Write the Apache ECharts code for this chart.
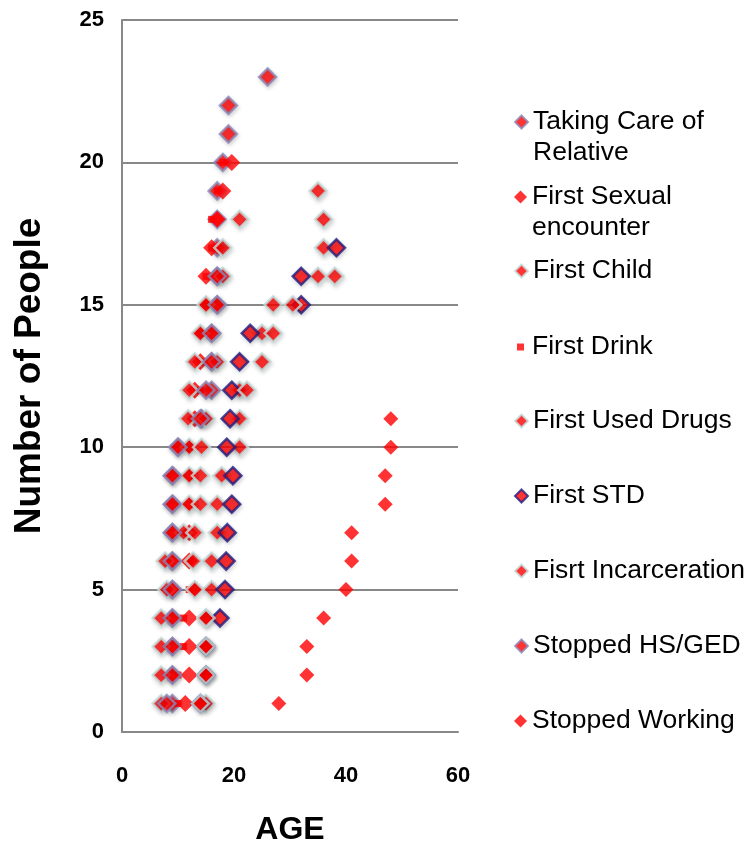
<!DOCTYPE html>
<html>
<head>
<meta charset="utf-8">
<script src="https://cdn.jsdelivr.net/npm/echarts@6/dist/echarts.min.js"></script>
<style>html,body{margin:0;padding:0;background:#fff}#c{width:750px;height:844px}</style>
</head>
<body>
<div id="c"></div>
<script>
// ---- data (ages; y = number of people) ----
const counts = [1,2,3,4,5,6,7,8,9,10,11,12,13,14,15,16,17,18,19,20,21,22,23];
const seriesNames = ['Taking Care of\nRelative','First Sexual\nencounter','First Child','First Drink','First Used Drugs','First STD','Fisrt Incarceration','Stopped HS/GED','Stopped Working'];
const takingCare    = [9,9,9,9,9,9,9,9,9,10,14.2,16,16,16,17,17,17,17,17,18,19,19,26];
const firstSexual   = [11.3,12,12,12,13,12,12,12,12,12,13,13,14,14,15,15,16,17,18,19.6];
const firstChild    = [15,15,15,15,16,16,17,17,17.8,21,21,21,25,25,27,35,36,36,35];
const firstDrink    = [10,10,11,11,12,12,12,13,13,13,13,14,14,14,15,15,16,16,17,18];
const firstDrugs    = [7,7,7,7,8,7.7,11,12,12,12,11.8,12,13,14,15,18,18,21];
const firstSTD      = [14,15,15,17.5,18.4,18.6,18.8,19.6,19.8,18.7,19.3,19.6,21,22.9,32,32,38.3];
const incarceration = [14,15,15,15,13,12.7,13,14,14,14.2,15,22.3,17,27,30.5,38];
const stoppedHS     = [8,9,9,9,9,9,9,9,9,10,14,15,16,16,17,17];
const stoppedWork   = [28,33,33,36,40,41,41,47,47,48,48];
const xTicks = [0,20,40,60];
const yTicks = [0,5,10,15,20,25];

const ageLists = [takingCare, firstSexual, firstChild, firstDrink, firstDrugs, firstSTD, incarceration, stoppedHS, stoppedWork];

// ---- styles ----
const RED = '#ff0000';
const PURPLE = '#8a8aba', NAVY = '#1e1e82', CYAN = '#c2dede';
const smallSquareIcon = 'path://M0,0M13,13M3,3L10,3L10,10L3,10Z';
const styles = [
  {symbol:'diamond', size:17, border:PURPLE, bw:2.5, icon:'diamond'},
  {symbol:'diamond', size:17, border:null, bw:0, icon:'diamond'},
  {symbol:'diamond', size:17, border:CYAN, bw:2.5, icon:'diamond'},
  {symbol:'rect', size:7, border:null, bw:0, icon:smallSquareIcon},
  {symbol:'diamond', size:17, border:CYAN, bw:2.5, icon:'diamond'},
  {symbol:'diamond', size:17, border:NAVY, bw:2.5, icon:'diamond'},
  {symbol:'diamond', size:17, border:CYAN, bw:2.5, icon:'diamond'},
  {symbol:'diamond', size:17, border:PURPLE, bw:2.5, icon:'diamond'},
  {symbol:'diamond', size:15, border:null, bw:0, icon:'diamond'}
];
const legendY = [122,197,271,347,421,496,571,646,721];

const FONT = 'Liberation Sans, Arial, sans-serif';

const series = seriesNames.map((name, k) => {
  const st = styles[k];
  const ages = ageLists[k];
  return {
    name: name,
    type: 'scatter',
    symbol: st.symbol,
    symbolSize: st.size,
    data: ages.map((a, i) => [a, counts[i]]),
    itemStyle: {
      color: RED,
      borderColor: st.border || RED,
      borderWidth: st.bw,
      shadowColor: st.border ? 'rgba(0,0,0,0.18)' : 'rgba(0,0,0,0)',
      shadowBlur: st.border ? 4 : 0,
      shadowOffsetX: 1,
      shadowOffsetY: 2
    },
    emphasis: {disabled: true},
    animation: false
  };
});

const legends = seriesNames.map((name, k) => {
  const twoLine = name.indexOf('\n') >= 0;
  const st = styles[k];
  return {
    data: [{name: name, icon: st.icon}],
    left: 514,
    top: twoLine ? legendY[k] - 46.5 : legendY[k] - 15.5,
    orient: 'vertical',
    selectedMode: false,
    itemWidth: 13,
    itemHeight: 13,
    padding: 0,
    formatter: n => twoLine ? '\u00a0\n' + n : n,
    textStyle: {
      fontFamily: FONT,
      fontSize: 26.5,
      lineHeight: 31,
      color: '#000'
    }
  };
});

const chart = echarts.init(document.getElementById('c'), null, {renderer: 'canvas'});
chart.setOption({
  animation: false,
  backgroundColor: '#fff',
  grid: {left: 122, right: 292, top: 20, bottom: 112, containLabel: false, outerBoundsMode: 'none'},
  legend: legends,
  xAxis: {
    type: 'value', min: 0, max: 60, interval: 20,
    name: 'AGE', nameLocation: 'middle', nameGap: 82,
    nameTextStyle: {fontFamily: FONT, fontSize: 32, fontWeight: 'bold', color: '#000'},
    axisLine: {show: true, lineStyle: {color: '#888', width: 2}},
    axisTick: {show: false},
    splitLine: {show: false},
    axisLabel: {fontFamily: FONT, fontSize: 22, fontWeight: 'bold', color: '#000', margin: 33,
      formatter: v => xTicks.indexOf(v) >= 0 ? String(v) : ''}
  },
  yAxis: {
    type: 'value', min: 0, max: 25, interval: 5,
    name: 'Number of People', nameLocation: 'middle', nameGap: 74, nameRotate: 90,
    nameTextStyle: {fontFamily: FONT, fontSize: 37, fontWeight: 'bold', color: '#000'},
    axisLine: {show: true, lineStyle: {color: '#888', width: 2}},
    axisTick: {show: false},
    splitLine: {show: true, lineStyle: {color: '#888', width: 2}},
    axisLabel: {fontFamily: FONT, fontSize: 22, fontWeight: 'bold', color: '#000', margin: 18,
      formatter: v => yTicks.indexOf(v) >= 0 ? String(v) : ''}
  },
  series: series
});
</script>
</body>
</html>
